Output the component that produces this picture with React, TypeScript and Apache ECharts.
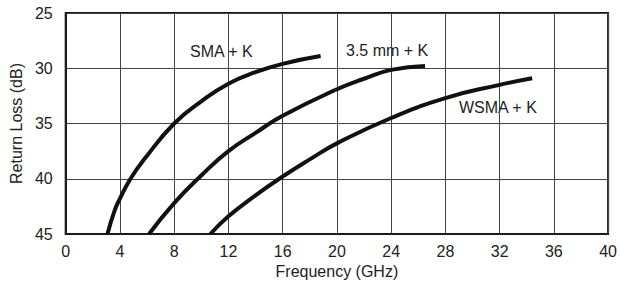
import React, { useEffect, useRef } from "react";
import * as echarts from "echarts";

const xTicks = [0, 4, 8, 12, 16, 20, 24, 28, 32, 36, 40];
const yTicks = [25, 30, 35, 40, 45];

const smaK: [number, number][] = [
  [3.08, 45], [3.6, 42.9], [4, 41.8], [4.78, 40], [5.82, 38.2], [8, 35], [10, 33.0], [12, 31.4], [14, 30.35], [16, 29.6], [18.8, 28.9],
];
const mm35K: [number, number][] = [
  [6.15, 45], [8, 42.2], [10, 39.7], [12, 37.5], [14, 35.85], [16, 34.3], [20, 31.9], [22, 30.95], [24, 30.15], [26.5, 29.8],
];
const wsmaK: [number, number][] = [
  [10.67, 45], [12, 43.4], [14, 41.5], [16, 39.8], [18, 38.25], [20, 36.8], [24, 34.5], [28, 32.7], [32, 31.5], [34.4, 30.9],
];
const seriesNames = ["SMA + K", "3.5 mm + K", "WSMA + K"];

const FONT = "'Liberation Sans', Arial, Helvetica, sans-serif";

export default function App() {
  const ref = useRef<HTMLDivElement>(null);
  useEffect(() => {
    if (!ref.current) return;
    const chart = echarts.init(ref.current, undefined, { renderer: "svg" });
    const lineStyle = { color: "#111", width: 4 };
    const mk = (name: string, data: [number, number][]) => ({
      name,
      type: "line",
      data,
      smooth: 0.5,
      showSymbol: false,
      lineStyle,
      itemStyle: { color: "#111" },
    });
    chart.setOption({
      animation: false,
      backgroundColor: "#fff",
      textStyle: { fontFamily: FONT },
      grid: {
        left: 60, right: 10, top: 13, bottom: 53,
        show: true, borderColor: "#1a1a1a", borderWidth: 2,
      },
      xAxis: {
        type: "value",
        min: xTicks[0],
        max: xTicks[xTicks.length - 1],
        interval: 4,
        name: "Frequency (GHz)",
        nameLocation: "middle",
        nameGap: 28,
        nameTextStyle: { fontSize: 16, color: "#222", fontFamily: FONT },
        axisLine: { show: true, lineStyle: { color: "#1a1a1a", width: 2 } },
        axisTick: { show: false },
        axisLabel: { fontSize: 16, color: "#222", margin: 9, fontFamily: FONT },
        splitLine: { show: true, lineStyle: { color: "#444", width: 1 } },
      },
      yAxis: {
        type: "value",
        inverse: true,
        min: yTicks[0],
        max: yTicks[yTicks.length - 1],
        interval: 5,
        name: "Return Loss (dB)",
        nameLocation: "middle",
        nameGap: 36,
        nameRotate: 90,
        nameTextStyle: { fontSize: 16, color: "#222", fontFamily: FONT },
        axisLine: { show: true, lineStyle: { color: "#1a1a1a", width: 2 } },
        axisTick: { show: false },
        axisLabel: { fontSize: 16, color: "#222", margin: 13, fontFamily: FONT },
        splitLine: { show: true, lineStyle: { color: "#444", width: 1 } },
      },
      graphic: [
        { type: "text", x: 190, y: 51, style: { text: seriesNames[0], fontSize: 16, fill: "#222", fontFamily: FONT, textVerticalAlign: "middle" } },
        { type: "text", x: 346, y: 50, style: { text: seriesNames[1], fontSize: 16, fill: "#222", fontFamily: FONT, textVerticalAlign: "middle" } },
        { type: "text", x: 459, y: 107, style: { text: seriesNames[2], fontSize: 16, fill: "#222", fontFamily: FONT, textVerticalAlign: "middle" } },
      ],
      series: [mk(seriesNames[0], smaK), mk(seriesNames[1], mm35K), mk(seriesNames[2], wsmaK)],
    });
    return () => chart.dispose();
  }, []);
  return (
    <div
      ref={ref}
      style={{ position: "fixed", left: 0, top: 0, width: 620, height: 287, background: "#fff" }}
    />
  );
}
